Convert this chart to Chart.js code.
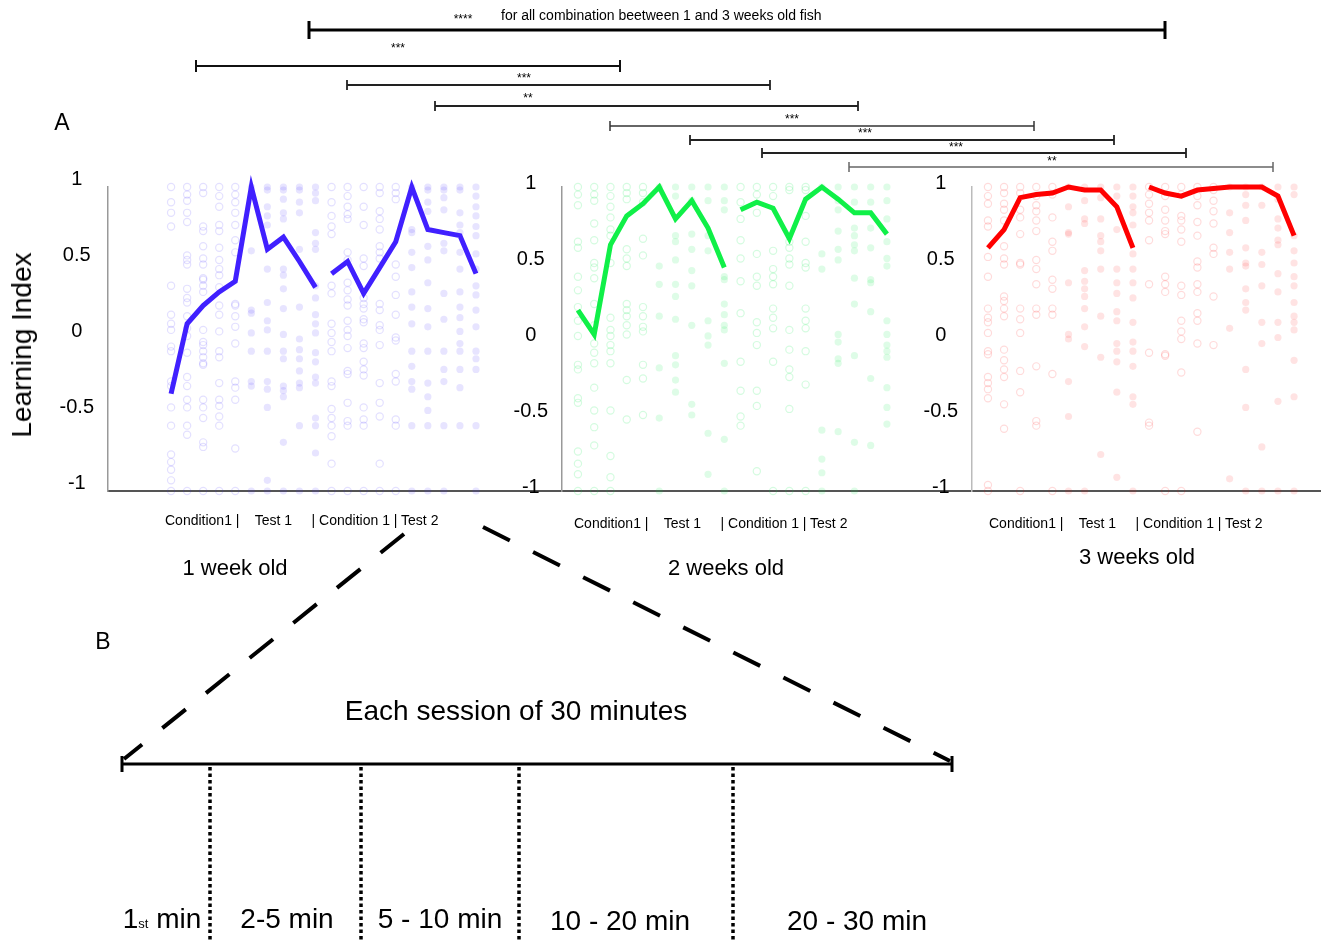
<!DOCTYPE html>
<html>
<head>
<meta charset="utf-8">
<title>Learning Index - 1, 2 and 3 weeks old fish</title>
<script src="https://cdn.jsdelivr.net/npm/chart.js"></script>
<style>
  body { margin: 0; background: #fff; font-family: "Liberation Sans", Arial, sans-serif; }
  #fig { position: relative; width: 1327px; height: 942px; overflow: hidden; }
  canvas { position: absolute; }
  .t { position: absolute; white-space: pre; color: #000; line-height: 1; transform: translate(-50%, -50%); }
  .l { transform: translate(0, -50%); }
</style>
</head>
<body>
<div id="fig">
  <canvas id="p1" width="521" height="369" style="left:41px;top:150px"></canvas>
  <canvas id="p2" width="477" height="369" style="left:495px;top:150px"></canvas>
  <canvas id="p3" width="422" height="369" style="left:905px;top:150px"></canvas>
  <canvas id="overlay" width="1327" height="942" style="left:0;top:0"></canvas>

  <div class="t" style="left:463px;top:19px;font-size:12px">****</div>
  <div class="t l" style="left:501px;top:15px;font-size:14px">for all combination beetween 1 and 3 weeks old fish</div>
  <div class="t" style="left:398px;top:48px;font-size:12px">***</div>
  <div class="t" style="left:524px;top:78px;font-size:12px">***</div>
  <div class="t" style="left:528px;top:98px;font-size:12px">**</div>
  <div class="t" style="left:792px;top:119px;font-size:12px">***</div>
  <div class="t" style="left:865px;top:133px;font-size:12px">***</div>
  <div class="t" style="left:956px;top:147px;font-size:12px">***</div>
  <div class="t" style="left:1052px;top:161px;font-size:12px">**</div>

  <div class="t" style="left:62px;top:122px;font-size:23px">A</div>
  <div class="t" style="left:22px;top:345px;font-size:28px;transform:translate(-50%,-50%) rotate(-90deg)">Learning Index</div>

  <div class="t l" style="left:165px;top:520px;font-size:14px">Condition1 |    Test 1     | Condition 1 | Test 2</div>
  <div class="t l" style="left:574px;top:523px;font-size:14px">Condition1 |    Test 1     | Condition 1 | Test 2</div>
  <div class="t l" style="left:989px;top:523px;font-size:14px">Condition1 |    Test 1     | Condition 1 | Test 2</div>
  <div class="t" style="left:235px;top:568px;font-size:22px">1 week old</div>
  <div class="t" style="left:726px;top:568px;font-size:22px">2 weeks old</div>
  <div class="t" style="left:1137px;top:557px;font-size:22px">3 weeks old</div>

  <div class="t" style="left:103px;top:641px;font-size:23px">B</div>
  <div class="t" style="left:516px;top:711px;font-size:28px">Each session of 30 minutes</div>
  <div class="t" style="left:162px;top:919px;font-size:28px">1<span style="font-size:13px">st</span> min</div>
  <div class="t" style="left:287px;top:919px;font-size:28px">2-5 min</div>
  <div class="t" style="left:440px;top:919px;font-size:28px">5 - 10 min</div>
  <div class="t" style="left:620px;top:921px;font-size:28px">10 - 20 min</div>
  <div class="t" style="left:857px;top:921px;font-size:28px">20 - 30 min</div>
</div>

<script>
  const FONT = '"Liberation Sans", Arial, sans-serif';
  const BINS = 5; // time bins per session: Condition1, Test 1, Condition 1, Test 2

  // mean learning index per time bin (20 bins = 4 sessions x 5)
  const blueLine  = [-0.36, 0.10, 0.22, 0.31, 0.38, 1.00, 0.59, 0.67, 0.51, 0.34,
                      0.43, 0.51, 0.30, 0.47, 0.64, 1.00, 0.72, 0.70, 0.68, 0.43];
  const greenLine = [0.19, 0.03, 0.62, 0.81, 0.89, 1.00, 0.79, 0.91, 0.73, 0.47,
                     0.85, 0.90, 0.86, 0.66, 0.92, 1.00, 0.92, 0.83, 0.83, 0.69];
  const redLine   = [0.60, 0.72, 0.93, 0.95, 0.96, 1.00, 0.98, 0.98, 0.87, 0.60,
                     1.00, 0.96, 0.94, 0.98, 0.99, 1.00, 1.00, 1.00, 0.94, 0.68];

  // individual fish, one list per time bin
  const blueDots = [
    [1,.9,.83,.74,.35,.16,.1,.06,-.05,-.08,-.28,-.31,-.45,-.57,-.76,-.81,-.86,-.93,-1],
    [1,.95,.91,.83,.77,.55,.52,.49,.33,.27,.24,.15,.07,.02,-.09,-.25,-.31,-.4,-.45,-.57,-.63,-1],
    [1,.96,.74,.71,.61,.53,.49,.4,.39,.35,.31,.06,-.02,-.04,-.08,-.12,-.16,-.17,-.4,-.45,-.52,-.68,-.71,-1],
    [1,.94,.87,.75,.71,.6,.52,.46,.42,.34,.22,.16,.05,-.08,-.12,-.29,-.4,-.44,-.51,-.57,-1],
    [1,.95,.9,.83,.75,.65,.57,.23,.22,.15,.08,-.03,-.28,-.32,-.4,-.72,-1],
    [1,.58,.19,.17,.04,-.08,-.28,-.31,-1],
    [1,.98,.87,.81,.75,.46,.24,.12,.06,-.08,-.28,-.33,-.45,-.93,-1],
    [1,.98,.92,.83,.79,.46,.42,.33,.2,.03,-.08,-.13,-.31,-.34,-.38,-.68,-1],
    [1,.98,.9,.83,.59,.21,0,-.07,-.13,-.21,-.29,-.32,-.57,-1],
    [1,.96,.91,.7,.63,.59,.35,.27,.16,.1,.04,-.09,-.15,-.25,-.29,-.52,-.57,-.75,-1],
    [1,.9,.81,.74,.69,.35,.3,.1,.04,-.02,-.08,-.28,-.31,-.46,-.52,-.57,-.64,-.82,-1],
    [1,.94,.87,.82,.79,.57,.52,.37,.32,.26,.22,.12,.06,.02,-.06,-.21,-.23,-.42,-.54,-.57,-1],
    [1,.87,.75,.53,.48,.27,.23,.2,.13,.11,-.03,-.06,-.15,-.2,-.24,-.45,-.53,-.57,-1],
    [1,.96,.84,.79,.72,.61,.57,.53,.23,.19,.09,.06,-.04,-.29,-.42,-.51,-.82,-1],
    [1,.96,.92,.49,.41,.29,.16,.01,-.01,-.23,-.28,-.53,-.57,-1],
    [1,.72,.7,.57,.47,.31,.21,.1,-.08,-.18,-.28,-.33,-.57,-1],
    [1,.98,.9,.84,.61,.52,.37,.2,.08,-.08,-.29,-.38,-.47,-.57,-1],
    [1,.98,.93,.85,.63,.58,.3,.13,-.08,-.2,-.28,-.57,-1],
    [1,.98,.83,.75,.7,.57,.46,.31,.21,.14,.05,-.03,-.08,-.2,-.32,-.57],
    [1,.94,.87,.81,.74,.68,.56,.46,.35,.29,.19,.08,-.08,-.13,-.2,-.57,-1]
  ];
  const greenDots = [
    [1,.95,.88,.64,.6,.41,.32,.21,.12,.02,-.17,-.2,-.39,-.42,-.74,-.82,-.89,-1],
    [1,.95,.91,.76,.65,.5,.47,.4,.23,.09,-.03,-.09,-.16,-.32,-.47,-.58,-.7,-1],
    [1,.94,.87,.8,.72,.68,.5,.14,.06,.02,-.04,-.08,-.16,-.47,-.77,-.91,-1],
    [1,.96,.92,.59,.53,.48,.23,.19,.15,.09,.03,-.27,-.53],
    [1,.96,.9,.66,.55,.21,.15,.08,.05,-.17,-.26,-.5],
    [1,.48,.36,.15,-.19,-.52,-1],
    [1,.94,.68,.64,.52,.36,.28,.13,-.11,-.17,-.27,-.35],
    [1,.91,.69,.59,.45,.35,.09,-.43,-.5],
    [1,.91,.68,.58,.12,.02,-.04,-.62,-.89],
    [1,.91,.85,.41,.39,.23,.16,.09,.06,-.16,-.66,-1],
    [1,.9,.79,.65,.53,.38,.17,-.15,-.34,-.51,-.57],
    [1,.95,.83,.56,.41,.35,.11,.04,-.04,-.34,-.44,-.87],
    [1,.94,.58,.46,.41,.36,.2,.14,.07,-.15,-1],
    [1,.98,.64,.6,.53,.49,.35,.06,-.07,-.2,-.25,-.46,-1],
    [1,.98,.81,.64,.5,.47,.2,.12,.07,-.08,-.3,-1],
    [1,.56,.46,-.6,-.79,-.88,-1],
    [1,.91,.85,.71,.59,.52,.03,-.02,-.13,-.16,-.61],
    [1,.9,.73,.68,.62,.58,.4,.23,-.11,-.68,-1],
    [1,.9,.73,.6,.39,.37,.18,-.26,-.7],
    [1,.91,.79,.64,.53,.48,.12,.03,-.04,-.08,-.12,-.32,-.45,-.56]
  ];
  const redDots = [
    [1,.94,.89,.78,.74,.54,.41,.2,.14,.11,.04,-.08,-.1,-.25,-.29,-.33,-.39,-.96,-1],
    [1,.96,.89,.85,.78,.61,.53,.49,.28,.25,.2,.15,-.07,-.14,-.2,-.25,-.43,-.59],
    [1,.96,.85,.8,.69,.5,.49,.2,.13,.04,-.21,-.35,-1],
    [1,.94,.88,.84,.78,.71,.52,.46,.36,.2,.16,-.18,-.54,-.57],
    [1,.95,.8,.64,.58,.39,.33,.2,.16,-.23,-1],
    [1,.87,.7,.69,.37,.03,0,-.28,-.51,-1],
    [1,.91,.79,.76,.45,.38,.33,.28,.2,.08,-.05,-1],
    [1,.93,.79,.68,.64,.58,.46,.15,-.12,-.76],
    [1,.94,.72,.46,.37,.3,.18,.12,-.03,-.08,-.15,-.35,-.91],
    [1,.94,.87,.83,.75,.56,.46,.37,.27,.11,-.02,-.08,-.18,-.38,-.43,-1],
    [1,.95,.89,.83,.78,.65,.36,-.09,-.55,-.57],
    [1,.94,.85,.78,.71,.69,.41,.36,.31,-.1,-.11,-1],
    [1,.95,.81,.78,.72,.64,.35,.29,.12,.05,0,-.22,-1],
    [1,.94,.88,.77,.68,.51,.47,.36,.31,.17,.12,-.03,-.61],
    [1,.98,.91,.84,.76,.6,.56,.28,-.04],
    [1,.83,.7,.57,.46,.07,-.92],
    [1,.95,.88,.78,.6,.5,.48,.33,.24,.19,-.2,-.45,-1],
    [1,.88,.57,.49,.35,.11,-.03,-.71,-1],
    [1,.92,.79,.73,.65,.62,.43,.31,.11,.01,-.41,-1],
    [1,.95,.68,.58,.5,.41,.35,.24,.15,.11,.06,-.14,-.38,-1]
  ];

  function panel(id, dots, line, rgb, lineColor, xMin, xMax, padRight, tickShift, axisColor, dotAlpha) {
    const open = [], filled = [];
    dots.forEach((col, i) => {
      // conditioning sessions drawn as open circles, test sessions filled
      const target = Math.floor(i / BINS) % 2 === 0 ? open : filled;
      col.forEach(v => target.push({x: i, y: v}));
    });
    const seg = (a, b) => line.slice(a, b).map((v, k) => ({x: a + k, y: v}));
    const lineDs = data => ({
      data, showLine: true, borderColor: lineColor, borderWidth: 5,
      pointRadius: 0, clip: false, borderJoinStyle: 'miter'
    });

    new Chart(document.getElementById(id), {
      type: 'scatter',
      data: {
        datasets: [
          { data: open, pointRadius: 3.6, pointBorderWidth: 1.2,
            pointBackgroundColor: 'rgba(0,0,0,0)', backgroundColor: 'rgba(0,0,0,0)',
            pointBorderColor: `rgba(${rgb},${dotAlpha[0]})`, borderColor: `rgba(${rgb},${dotAlpha[0]})`, clip: false },
          { data: filled, pointRadius: 3.6, pointBorderWidth: 0,
            pointBackgroundColor: `rgba(${rgb},${dotAlpha[1]})`, backgroundColor: `rgba(${rgb},${dotAlpha[1]})`, clip: false },
          lineDs(seg(0, 2 * BINS)),
          lineDs(seg(2 * BINS, 4 * BINS))
        ]
      },
      options: {
        responsive: false,
        animation: false,
        events: [],
        layout: { autoPadding: false, padding: { top: 37, right: padRight, left: 0, bottom: 0 } },
        plugins: { legend: { display: false }, tooltip: { enabled: false } },
        scales: {
          x: {
            type: 'linear', min: xMin, max: xMax,
            grid: { display: false, drawTicks: false },
            ticks: { display: false },
            border: { display: true, color: '#555', width: 2 },
            afterFit: s => { s.height = 28; }
          },
          y: {
            min: -1, max: 1,
            grid: { display: false, drawTicks: false },
            border: { display: true, color: axisColor, width: 1.5 },
            ticks: {
              stepSize: 0.5, autoSkip: false, crossAlign: 'center', padding: 14,
              labelOffset: tickShift, color: '#000', font: { family: FONT, size: 20 },
              callback: v => String(v)
            },
            afterFit: s => { s.width = 67; }
          }
        }
      }
    });
  }

  panel('p1', blueDots, blueLine, '70,45,255', '#4020ff', -3.93, 24.36, 0, -8, '#999', [0.15, 0.13]);
  panel('p2', greenDots, greenLine, '0,230,70', '#10f048', -0.98, 24.23, 0, -4, '#999', [0.17, 0.13]);
  panel('p3', redDots, redLine, '255,0,0', '#ff0000', -0.99, 20.61, 7, -4, '#bbb', [0.14, 0.11]);

  // comparison brackets and panel B schematic, in figure pixel space
  const BRACKETS = [
    { x0: 309, x1: 1165, y: 30,  w: 3,   tick: 9, color: '#000' },
    { x0: 196, x1: 620,  y: 66,  w: 2,   tick: 6, color: '#111' },
    { x0: 347, x1: 770,  y: 85,  w: 1.8, tick: 5, color: '#222' },
    { x0: 435, x1: 858,  y: 106, w: 1.8, tick: 5, color: '#222' },
    { x0: 610, x1: 1034, y: 126, w: 1.5, tick: 5, color: '#333' },
    { x0: 690, x1: 1114, y: 140, w: 1.8, tick: 5, color: '#222' },
    { x0: 762, x1: 1186, y: 153, w: 1.8, tick: 5, color: '#222' },
    { x0: 849, x1: 1273, y: 167, w: 1.5, tick: 5, color: '#666' }
  ];
  const SPLITS = [210, 361, 519, 733];

  const overlaySets = BRACKETS.map(b => ({
    data: [{x: b.x0, y: b.y}, {x: b.x1, y: b.y}],
    showLine: true, borderColor: b.color, borderWidth: b.w,
    pointStyle: 'line', pointRotation: 90, pointRadius: b.tick,
    pointBorderColor: b.color, pointBorderWidth: b.w, clip: false
  }));
  overlaySets.push(
    { data: [{x: 404, y: 534}, {x: 124, y: 759}], showLine: true, borderColor: '#000',
      borderWidth: 4, borderDash: [30, 26], pointRadius: 0, clip: false },
    { data: [{x: 483, y: 527}, {x: 950, y: 761}], showLine: true, borderColor: '#000',
      borderWidth: 4, borderDash: [30, 26], pointRadius: 0, clip: false },
    { data: [{x: 122, y: 764}, {x: 952, y: 764}], showLine: true, borderColor: '#000',
      borderWidth: 3, pointStyle: 'line', pointRotation: 90, pointRadius: 8,
      pointBorderColor: '#000', pointBorderWidth: 3, clip: false }
  );
  SPLITS.forEach(x => overlaySets.push({
    data: [{x, y: 767}, {x, y: 940}], showLine: true, borderColor: '#000',
    borderWidth: 3.5, borderDash: [3.5, 3], pointRadius: 0, clip: false
  }));

  new Chart(document.getElementById('overlay'), {
    type: 'scatter',
    data: { datasets: overlaySets },
    options: {
      responsive: false,
      animation: false,
      events: [],
      layout: { autoPadding: false, padding: 0 },
      plugins: { legend: { display: false }, tooltip: { enabled: false } },
      scales: {
        x: { type: 'linear', min: 0, max: 1327, display: false },
        y: { type: 'linear', min: 0, max: 942, reverse: true, display: false }
      }
    }
  });
</script>
</body>
</html>
